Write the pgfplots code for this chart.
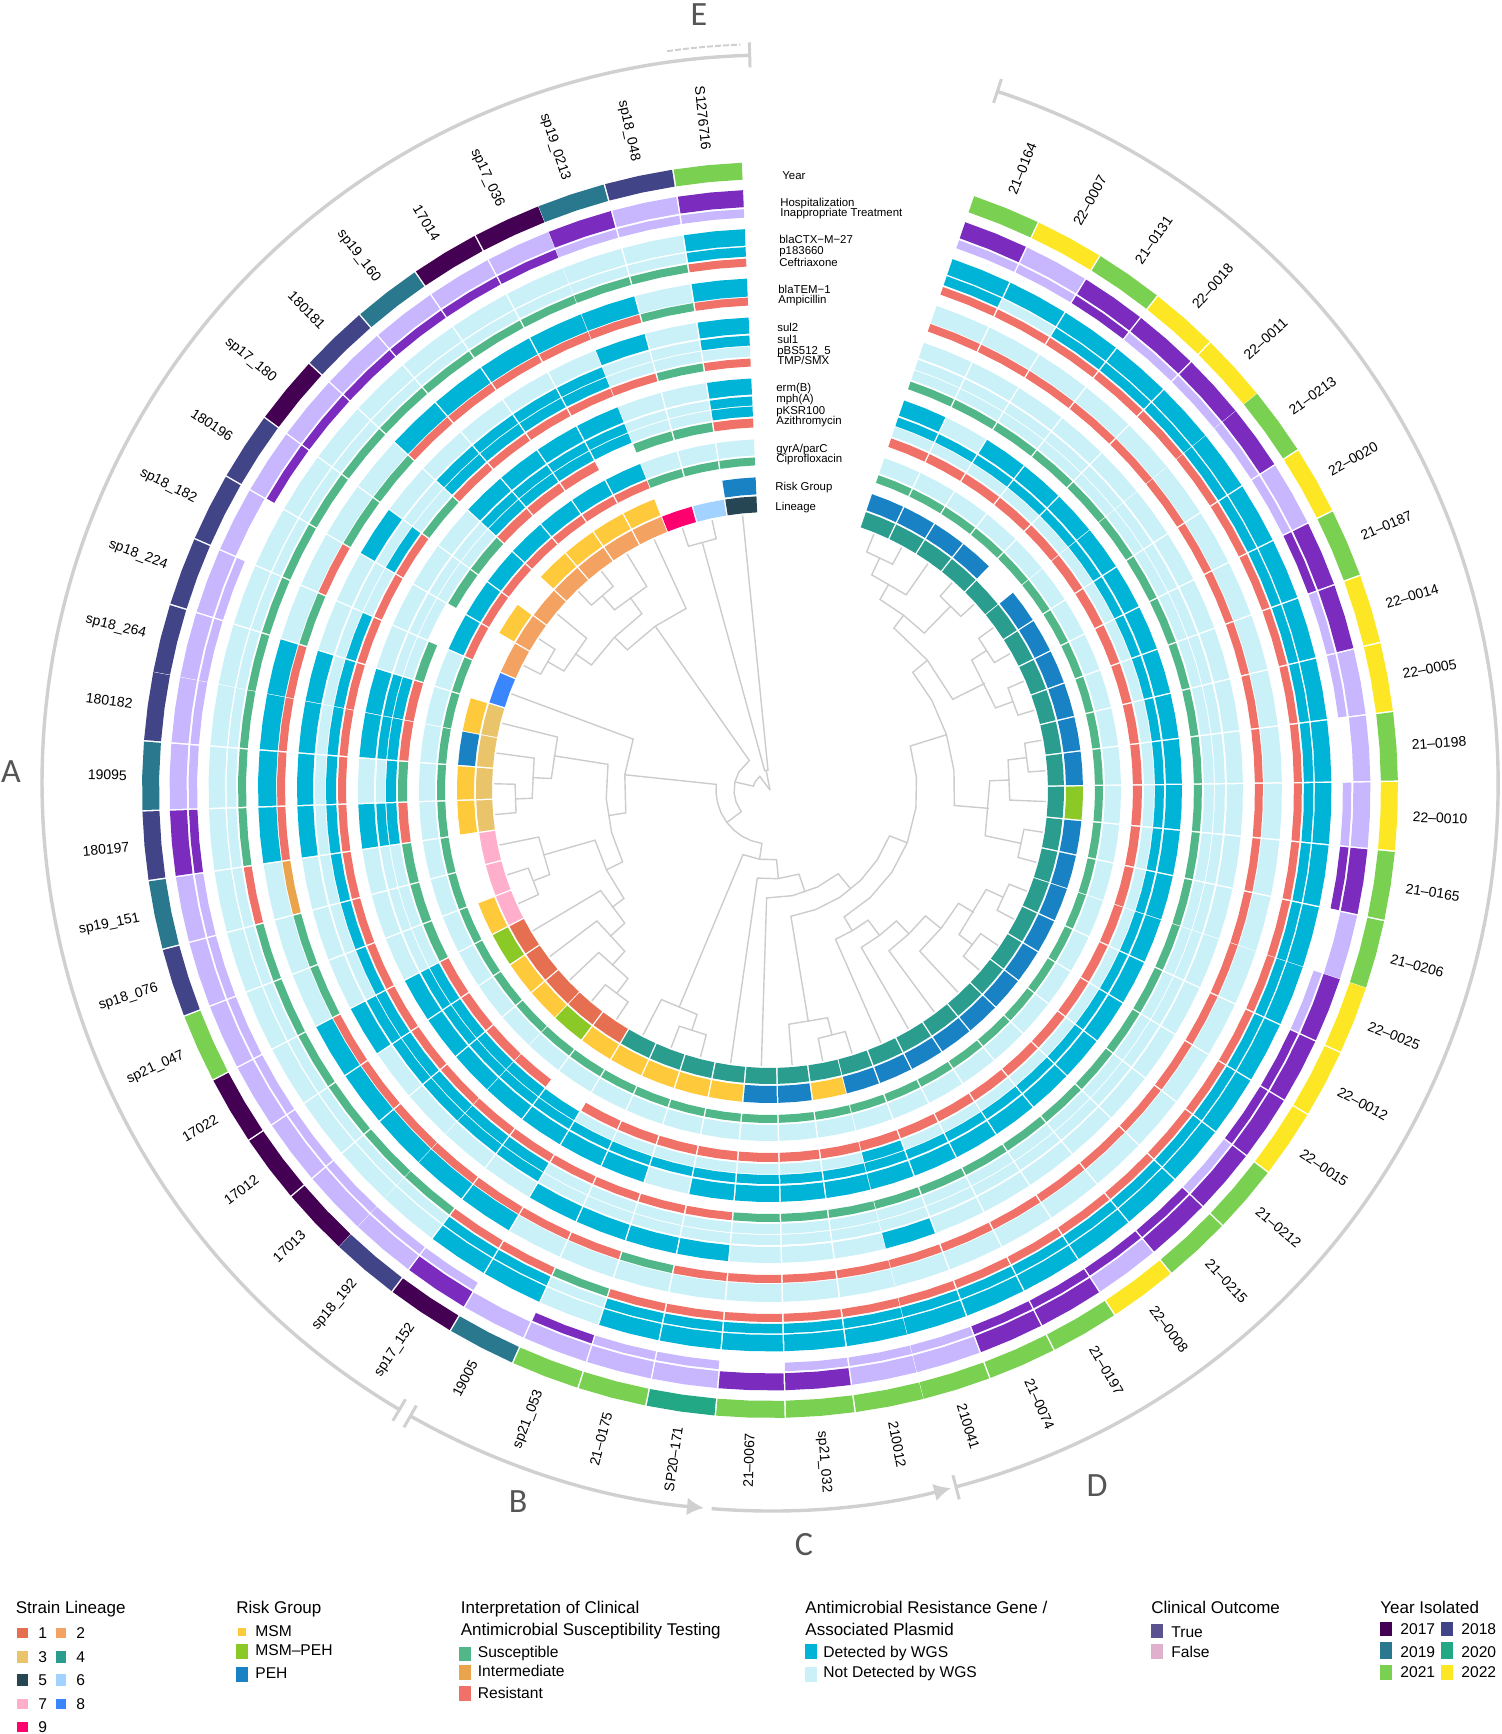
\documentclass[border=0pt]{standalone}
\usepackage{fontspec}
\setmainfont{Liberation Sans}
\newfontfamily\letterfont{Carlito}
\usepackage{pgfplots}
\usepackage{pgfplotstable}
\pgfplotsset{compat=1.18}
\usepgfplotslibrary{polar}
\usetikzlibrary{arrows.meta}

% AMR / AST / clinical
\definecolor{cat1}{HTML}{00B4D8}
\definecolor{cat2}{HTML}{CAF0F8}
\definecolor{cat3}{HTML}{52B788}
\definecolor{cat4}{HTML}{E9A44C}
\definecolor{cat5}{HTML}{F07167}
\definecolor{cat6}{HTML}{7B2CBF}
\definecolor{cat7}{HTML}{C8B6FF}
% risk group
\definecolor{cat8}{HTML}{FFC93C}
\definecolor{cat9}{HTML}{8AC926}
\definecolor{cat10}{HTML}{1982C4}
% lineage 1-9
\definecolor{cat11}{HTML}{E76F51}
\definecolor{cat12}{HTML}{F4A261}
\definecolor{cat13}{HTML}{E9C46A}
\definecolor{cat14}{HTML}{2A9D8F}
\definecolor{cat15}{HTML}{264653}
\definecolor{cat16}{HTML}{A2D2FF}
\definecolor{cat17}{HTML}{FFAFCC}
\definecolor{cat18}{HTML}{3A86FF}
\definecolor{cat19}{HTML}{FF006E}
% year
\definecolor{cat2017}{HTML}{440154}
\definecolor{cat2018}{HTML}{414487}
\definecolor{cat2019}{HTML}{2A788E}
\definecolor{cat2020}{HTML}{22A884}
\definecolor{cat2021}{HTML}{7AD151}
\definecolor{cat2022}{HTML}{FDE725}
\definecolor{treegrey}{HTML}{CCCCCC}
\definecolor{brgrey}{HTML}{D0D0D0}
\definecolor{lettergrey}{HTML}{555555}
\definecolor{trueswatch}{HTML}{5B5390}
\definecolor{falseswatch}{HTML}{E0B1CC}

% one row per strain, clockwise from the gap; 0 = no cell
\pgfplotstableread{
phi yr hs ip ctx p18 cef tem amp su2 su1 pb tmp erm mph ksr azi gyr cip rsk lin
22.1 2021 6 7 1 1 5 2 5 2 2 2 3 1 1 2 5 2 3 10 14
28.5 2022 7 7 1 2 5 2 5 2 2 2 3 2 1 2 5 2 3 10 14
34.9 2021 6 6 1 1 5 2 5 2 2 2 3 1 1 2 5 2 3 10 14
41.3 2022 6 7 1 1 5 2 5 2 2 2 3 1 1 2 5 2 3 10 14
47.7 2022 6 7 1 1 5 2 5 2 2 2 3 1 1 2 5 2 3 0 14
54.0 2021 6 7 1 1 5 2 5 2 2 2 3 1 1 2 5 2 3 10 14
60.4 2022 7 7 1 1 5 2 5 2 2 2 3 1 1 2 5 2 3 10 14
66.8 2021 6 6 1 1 5 2 5 2 2 2 3 1 1 2 5 2 3 10 14
73.2 2022 6 7 1 1 5 2 5 2 2 2 3 1 1 2 5 2 3 10 14
79.6 2022 7 7 1 1 5 2 5 2 2 2 3 1 1 2 5 2 3 10 14
86.0 2021 7 0 1 1 5 2 5 2 2 2 3 1 1 2 5 2 3 10 14
92.4 2022 7 7 1 1 5 2 5 2 2 2 3 1 1 2 5 2 3 9 14
98.8 2021 6 6 1 1 5 2 5 2 2 2 3 1 1 2 5 2 3 10 14
105.2 2021 7 0 1 1 5 2 5 2 2 2 3 1 1 2 5 2 3 10 14
111.5 2022 6 7 1 1 5 2 5 2 2 2 3 1 1 2 5 2 3 10 14
117.9 2022 6 6 1 1 5 2 5 2 2 2 3 1 1 2 5 2 3 10 14
124.3 2022 6 6 1 1 5 2 5 2 2 2 3 1 1 2 5 2 3 10 14
130.7 2021 6 7 1 1 5 2 5 2 2 2 3 1 1 2 5 2 3 10 14
137.1 2021 6 6 1 1 5 2 5 2 2 2 3 1 1 2 5 2 3 10 14
143.5 2022 7 6 1 1 5 2 5 2 2 2 3 1 1 2 5 2 3 10 14
149.9 2021 6 6 1 1 5 2 5 2 2 2 3 1 1 2 5 2 3 10 14
156.3 2021 6 6 1 1 5 2 5 2 2 2 3 1 1 2 5 2 3 10 14
162.7 2021 7 7 1 1 5 2 5 1 2 2 3 1 1 1 5 2 3 10 14
169.0 2021 7 7 1 1 5 2 5 2 2 2 3 1 1 2 5 2 3 8 14
175.4 2021 6 7 1 1 5 2 5 2 2 2 3 1 1 2 5 2 3 10 14
181.8 2021 6 0 1 1 5 2 5 2 2 2 3 1 1 2 5 2 3 10 14
188.2 2020 7 7 1 1 5 2 5 1 2 2 5 1 1 2 5 2 3 8 14
194.6 2021 7 7 1 1 5 2 3 1 2 2 5 2 1 2 5 2 3 8 14
201.0 2021 7 6 2 2 3 2 5 1 2 2 5 1 1 2 5 2 3 8 14
207.4 2019 7 0 1 1 5 2 5 1 2 2 5 1 1 2 5 2 3 8 14
213.8 2017 6 7 1 1 5 1 5 2 1 1 5 1 1 1 0 2 3 8 11
220.2 2018 7 7 2 2 3 1 5 2 1 1 5 1 1 1 5 2 3 9 11
226.5 2017 7 7 2 2 3 1 5 2 1 1 5 1 1 1 5 2 3 8 11
232.9 2017 7 7 2 2 3 1 5 2 1 1 5 1 1 1 5 2 3 8 11
239.3 2017 7 7 2 2 3 1 5 1 1 1 5 1 1 1 5 2 3 9 11
245.7 2021 7 7 2 2 3 2 3 2 2 1 5 2 2 2 3 2 3 8 17
252.1 2018 7 7 2 2 3 2 3 2 2 1 5 2 2 2 3 2 3 0 17
258.5 2019 7 7 2 2 5 2 4 2 2 1 5 2 2 2 3 2 3 0 17
264.9 2018 6 6 2 2 3 1 5 1 2 1 5 1 1 1 5 2 3 8 13
271.3 2019 7 7 2 2 3 1 5 1 2 1 5 2 2 1 3 2 3 8 13
277.7 2018 7 7 2 2 3 1 5 1 2 1 5 1 1 1 5 2 3 10 13
284.0 2018 7 7 2 2 3 1 5 1 2 1 5 1 1 1 5 2 3 8 13
290.4 2018 7 7 2 2 3 2 3 2 2 1 5 2 2 2 3 2 3 0 18
296.8 2018 7 0 2 2 3 2 5 2 2 2 5 2 2 2 0 1 5 0 12
303.2 2018 7 6 2 2 3 2 3 1 2 1 5 2 2 2 3 1 5 8 12
309.6 2017 7 6 2 2 3 2 3 2 2 2 3 2 2 2 3 1 5 0 12
316.0 2018 7 6 2 2 3 1 5 2 1 1 5 1 1 1 5 1 5 8 12
322.4 2019 7 6 2 2 3 1 5 2 1 1 5 1 1 1 5 1 5 8 12
328.8 2017 7 6 2 2 3 1 5 2 1 1 5 1 1 1 5 1 5 8 12
335.2 2017 7 6 2 2 3 1 5 2 1 1 5 1 1 1 0 1 5 8 12
341.5 2019 6 7 2 2 3 1 5 1 2 2 5 2 2 2 3 2 3 0 19
347.9 2018 7 7 2 2 3 2 3 2 2 2 3 2 2 2 3 2 3 0 16
354.3 2021 6 7 1 1 5 1 5 1 1 2 5 1 1 1 5 2 3 10 15
}\cells

\pgfdeclareplotmark{nomark}{}

% a cell: 1 px = 0.5pt, radial x axis after the rotation
\newcommand\drawcell[2]{%
  \pgfmathtruncatemacro\cc{\cellcat}%
  \ifnum\cc>0
    \pgfscope
    \pgftransformrotate{90-\cellphi}%
    \pgfsetfillcolor{cat\cc}%
    \pgfmathsetmacro\cmid{(#1+#2)/2}%
    \pgfmathsetmacro\chi{(#1*0.05567-0.7)*0.5}%
    \pgfmathsetmacro\cho{(#2*0.05567-0.7)*0.5}%
    \pgfmathsetmacro\cxic{(#1*0.99845-\cmid)*0.5}%
    \pgfmathsetmacro\cxoc{(#2*0.99845-\cmid)*0.5}%
    \pgfmathsetmacro\cxim{(#1-\cmid)*0.5}%
    \pgfmathsetmacro\cxom{(#2-\cmid)*0.5}%
    \pgfpathmoveto{\pgfpoint{\cxic pt}{-\chi pt}}%
    \pgfpathlineto{\pgfpoint{\cxim pt}{0pt}}%
    \pgfpathlineto{\pgfpoint{\cxic pt}{\chi pt}}%
    \pgfpathlineto{\pgfpoint{\cxoc pt}{\cho pt}}%
    \pgfpathlineto{\pgfpoint{\cxom pt}{0pt}}%
    \pgfpathlineto{\pgfpoint{\cxoc pt}{-\cho pt}}%
    \pgfpathclose
    \pgfusepath{fill}%
    \endpgfscope
  \fi}

\newcommand\ring[3]{%
  \addplot[scatter, only marks, mark=nomark,
    visualization depends on={\thisrow{#1} \as \cellcat},
    visualization depends on={\thisrow{phi} \as \cellphi},
    scatter/@pre marker code/.code={\drawcell{#2}{#3}},
    scatter/@post marker code/.code={}]
    table[x=phi, y expr={(#2+#3)/2}] {\cells};}

\newcommand\br[1]{\addplot[treegrey, line width=0.7pt, line join=miter, mark=none] coordinates {#1};}

% strain label, radial
\newcommand\slab[2]{%
  \ifdim#1pt<180pt
    \node[anchor=west, rotate=90-#1, inner sep=0pt, font=\fontsize{7}{8}\selectfont] at ({90-#1}:643) {#2};
  \else
    \node[anchor=east, rotate=270-#1, inner sep=0pt, font=\fontsize{7}{8}\selectfont] at ({90-#1}:643) {#2};
  \fi}
% y is the middle of the capitals, the nodes sit on their baseline
\newcommand\rlab[3]{\node[anchor=base west, inner sep=0pt, font=\fontsize{5.7}{7}\selectfont] at (#1,#2+4) {#3};}
\newcommand\ltx[3]{\node[anchor=base west, inner sep=0pt, font=\fontsize{7.8}{10}\selectfont] at (#1,#2+5.5) {#3};}
\newcommand\ttl[3]{\node[anchor=base west, inner sep=0pt, font=\fontsize{8.5}{10}\selectfont] at (#1,#2+6) {#3};}
\newcommand\swatch[5]{\fill[#5] (#1,#2) rectangle (#3,#4);}
\newcommand\brtick[1]{\draw[brgrey, line width=1.5pt] ({90-#1}:716) -- ({90-#1}:741);}

\begin{document}
\begin{tikzpicture}[x=0.5pt,y=-0.5pt]
\begin{polaraxis}[
  at={(385pt,-395pt)}, anchor=origin,
  scale only axis, width=730pt, height=730pt,
  ymin=0, ymax=730,
  x coord trafo/.code={\pgfmathparse{90-#1}},
  hide axis, clip=false, xtick=\empty, ytick=\empty,
]
% dendrogram
\br{(22.1,276)(22.1,257)(28.5,257)(28.5,276)}
\br{(25.3,257)(25.3,238)(34.9,238)(34.9,276)}
\br{(41.3,276)(41.3,258)(47.7,258)(47.7,276)}
\br{(30,238)(30,220)(37.4,220)(44.5,220)(44.5,258)}
\br{(54,276)(54,258)(60.4,258)(60.4,276)}
\br{(66.8,276)(66.8,259)(73.2,259)(73.2,276)}
\br{(57.2,258)(57.2,240)(70,240)(70,259)}
\br{(37.4,220)(37.4,204)(50.5,204)(63.6,204)(63.6,240)}
\br{(79.6,276)(79.6,259)(86,259)(86,276)}
\br{(82.8,259)(82.8,240)(92.4,240)(92.4,276)}
\br{(98.8,276)(98.8,257)(105.2,257)(105.2,276)}
\br{(87.6,240)(87.6,220)(102,220)(102,257)}
\br{(50.5,204)(50.5,185)(61,185)(72.6,185)(84,185)(94.8,185)(94.8,220)}
\br{(111.5,276)(111.5,257)(117.9,257)(117.9,276)}
\br{(124.3,276)(124.3,255)(130.7,255)(130.7,276)}
\br{(114.7,257)(114.7,238)(127.4,238)(127.4,255)}
\br{(121,238)(121,220)(129,220)(137.1,220)(137.1,276)}
\br{(129,220)(129,200)(136,200)(143.5,200)(143.5,276)}
\br{(136,200)(136,182)(143,182)(149.9,182)(149.9,276)}
\br{(143,182)(143,163)(149.7,163)(156.3,163)(156.3,276)}
\br{(72.6,185)(72.6,147)(85,147)(97,147)(111,147)(124,147)(137,147)(149.7,147)(149.7,163)}
\br{(162.7,276)(162.7,253)(169,253)(169,276)}
\br{(165.8,253)(165.8,235)(175.4,235)(175.4,276)}
\br{(111,147)(111,128)(123,128)(135,128)(147,128)(159,128)(170.6,128)(170.6,235)}
\br{(140.8,128)(140.8,108)(154,108)(168,108)(181.8,108)(181.8,276)}
\br{(161,108)(161,89)(175,89)(188.2,89)(188.2,276)}
\br{(194.6,276)(194.6,253)(201,253)(201,276)}
\br{(198,253)(198,236)(207.4,236)(207.4,276)}
\br{(174.6,89)(174.6,70)(188.6,70)(202.7,70)(202.7,236)}
\br{(213.8,276)(213.8,255)(220.2,255)(220.2,276)}
\br{(217,255)(217,236)(226.5,236)(226.5,276)}
\br{(222,236)(222,217)(232.9,217)(232.9,276)}
\br{(227.5,217)(227.5,197)(239.3,197)(239.3,276)}
\br{(245.7,276)(245.7,254)(252.1,254)(252.1,276)}
\br{(249,254)(249,236)(258.5,236)(258.5,276)}
\br{(233.4,197)(233.4,182)(244,182)(254,182)(254,236)}
\br{(264.9,276)(264.9,255)(271.3,255)(271.3,276)}
\br{(268,255)(268,238)(277.7,238)(277.7,276)}
\br{(273,238)(273,219)(284,219)(284,276)}
\br{(244,182)(244,164)(255,164)(267,164)(279,164)(279,219)}
\br{(261,164)(261,146)(276,146)(290.4,146)(290.4,276)}
\br{(188.6,70)(188.6,54)(200,54)(211,54)(222,54)(233,54)(245,54)(256,54)(267,54)(276,54)(276,146)}
\br{(296.8,276)(296.8,257)(303.2,257)(303.2,276)}
\br{(300,257)(300,238)(309.6,238)(309.6,276)}
\br{(316,276)(316,257)(322.4,257)(322.4,276)}
\br{(319.2,257)(319.2,238)(328.8,238)(328.8,276)}
\br{(305,238)(305,218)(314.5,218)(324,218)(324,238)}
\br{(314.5,218)(314.5,200)(325,200)(335.2,200)(335.2,276)}
\br{(233,54)(233,36)(250,36)(265,36)(283,36)(300,36)(325,36)(325,200)}
\br{(283,36)(283,17)(300,17)(323,17)(323,0)}
\br{(341.5,276)(341.5,257)(347.9,257)(347.9,276)}
\br{(344.7,257)(344.7,20)(354.3,20)(354.3,276)}
\br{(349,20)(349,0)}
% rings, outer to inner
\ring{yr}{611}{628}
\ring{hs}{583.5}{600.5}
\ring{ip}{573}{581.5}
\ring{ctx}{545}{561.5}
\ring{p18}{534}{543.5}
\ring{cef}{524}{532}
\ring{tem}{494}{512}
\ring{amp}{485}{493}
\ring{su2}{457}{473}
\ring{su1}{445}{455}
\ring{pb}{434}{444}
\ring{tmp}{424}{432}
\ring{erm}{396}{412}
\ring{mph}{385}{394}
\ring{ksr}{374}{384}
\ring{azi}{363}{372}
\ring{gyr}{335}{351}
\ring{cip}{325}{333}
\ring{rsk}{296}{313}
\ring{lin}{278}{294}
\end{polaraxis}

\begin{scope}[shift={(770,790)},x=0.5pt,y=0.5pt]
\slab{22.1}{21–0164}\slab{28.5}{22–0007}\slab{34.9}{21–0131}\slab{41.3}{22–0018}
\slab{47.7}{22–0011}\slab{54.0}{21–0213}\slab{60.4}{22–0020}\slab{66.8}{21–0187}
\slab{73.2}{22–0014}\slab{79.6}{22–0005}\slab{86.0}{21–0198}\slab{92.4}{22–0010}
\slab{98.8}{21–0165}\slab{105.2}{21–0206}\slab{111.5}{22–0025}\slab{117.9}{22–0012}
\slab{124.3}{22–0015}\slab{130.7}{21–0212}\slab{137.1}{21–0215}\slab{143.5}{22–0008}
\slab{149.9}{21–0197}\slab{156.3}{21–0074}\slab{162.7}{210041}\slab{169.0}{210012}
\slab{175.4}{sp21\_032}\slab{181.8}{21–0067}\slab{188.2}{SP20–171}\slab{194.6}{21–0175}
\slab{201.0}{sp21\_053}\slab{207.4}{19005}\slab{213.8}{sp17\_152}\slab{220.2}{sp18\_192}
\slab{226.5}{17013}\slab{232.9}{17012}\slab{239.3}{17022}\slab{245.7}{sp21\_047}
\slab{252.1}{sp18\_076}\slab{258.5}{sp19\_151}\slab{264.9}{180197}\slab{271.3}{19095}
\slab{277.7}{180182}\slab{284.0}{sp18\_264}\slab{290.4}{sp18\_224}\slab{296.8}{sp18\_182}
\slab{303.2}{180196}\slab{309.6}{sp17\_180}\slab{316.0}{180181}\slab{322.4}{sp19\_160}
\slab{328.8}{17014}\slab{335.2}{sp17\_036}\slab{341.5}{sp19\_0213}\slab{347.9}{sp18\_048}
\slab{354.3}{S1276716}
\end{scope}

% brackets, their circle sits a little above the rings
\begin{scope}[shift={(770,783)},x=0.5pt,y=0.5pt]
\draw[brgrey, line width=1.7pt] ({90-358.4}:728) arc[start angle={90-358.4}, end angle={90-210.6}, radius=728];
\brtick{358.4}\brtick{210.6}
\brtick{209.6}\brtick{165.2}\brtick{18.2}
\draw[brgrey, line width=1.7pt, -{Latex[length=8.5pt,width=9pt]}] ({90-209.6}:728) arc[start angle={90-209.6}, end angle={90-185.2}, radius=728];
\draw[brgrey, line width=1.7pt, -{Latex[length=8.5pt,width=9pt]}] ({90-184.6}:728) arc[start angle={90-184.6}, end angle={90-165.6}, radius=728];
\draw[brgrey, line width=1.7pt] ({90-165.2}:728) arc[start angle={90-165.2}, end angle={90-18.2}, radius=728];
\draw[brgrey, line width=1pt, dash pattern=on 3pt off 1pt] ({90-352}:739) arc[start angle={90-352}, end angle={90-357.7}, radius=739];
\end{scope}

% ring names
\rlab{782}{175}{Year}
\rlab{780}{202}{Hospitalization}
\rlab{780}{212}{Inappropriate Treatment}
\rlab{779}{239}{blaCTX−M−27}
\rlab{779}{250}{p183660}
\rlab{779}{262}{Ceftriaxone}
\rlab{778}{289}{blaTEM−1}
\rlab{778}{299}{Ampicillin}
\rlab{777}{327}{sul2}
\rlab{777}{339}{sul1}
\rlab{777}{350}{pBS512\_5}
\rlab{777}{360}{TMP/SMX}
\rlab{776}{387}{erm(B)}
\rlab{776}{398}{mph(A)}
\rlab{776}{410}{pKSR100}
\rlab{776}{420}{Azithromycin}
\rlab{776}{448}{gyrA/parC}
\rlab{776}{458}{Ciprofloxacin}
\rlab{775}{486}{Risk Group}
\rlab{775}{506}{Lineage}

% letters
\foreach \t/\a/\b in {A/11/772,E/699/15,B/518/1502,C/804/1545,D/1097/1486}
  \node[text=lettergrey, inner sep=0pt, font=\letterfont\fontsize{17}{20}\selectfont] at (\a,\b) {\t};

% legends
\ttl{15.5}{1607}{Strain Lineage}
\swatch{17}{1628}{27.5}{1638}{cat11}\ltx{38}{1633}{1}
\swatch{56}{1628}{65.5}{1638}{cat12}\ltx{76}{1633}{2}
\swatch{17}{1651}{27.5}{1663}{cat13}\ltx{38}{1657}{3}
\swatch{56}{1651}{65.5}{1663}{cat14}\ltx{76}{1657}{4}
\swatch{17}{1674}{27.5}{1686}{cat15}\ltx{38}{1680}{5}
\swatch{56}{1674}{65.5}{1686}{cat16}\ltx{76}{1680}{6}
\swatch{17}{1699}{27.5}{1709}{cat17}\ltx{38}{1704}{7}
\swatch{56}{1699}{65.5}{1709}{cat18}\ltx{76}{1704}{8}
\swatch{17}{1722}{27.5}{1732}{cat19}\ltx{38}{1727}{9}

\ttl{236}{1607}{Risk Group}
\swatch{237.5}{1628}{246}{1636}{cat8}\ltx{255}{1631}{MSM}
\swatch{236}{1644}{248}{1659}{cat9}\ltx{255}{1650}{MSM–PEH}
\swatch{236}{1667}{248}{1682}{cat10}\ltx{255}{1673}{PEH}

\ttl{460.5}{1607}{Interpretation of Clinical}
\ttl{460.5}{1629}{Antimicrobial Susceptibility Testing}
\swatch{459}{1647}{471}{1661}{cat3}\ltx{477.5}{1652}{Susceptible}
\swatch{459}{1665}{471}{1680}{cat4}\ltx{477.5}{1671}{Intermediate}
\swatch{459}{1686}{471}{1701}{cat5}\ltx{477.5}{1693}{Resistant}

\ttl{805}{1607}{Antimicrobial Resistance Gene /}
\ttl{805}{1629}{Associated Plasmid}
\swatch{805}{1644}{817}{1659}{cat1}\ltx{823}{1652}{Detected by WGS}
\swatch{805}{1667}{817}{1682}{cat2}\ltx{823}{1672}{Not Detected by WGS}

\ttl{1151}{1607}{Clinical Outcome}
\swatch{1151}{1624}{1163}{1638}{trueswatch}\ltx{1171}{1632}{True}
\swatch{1151}{1644}{1163}{1659}{falseswatch}\ltx{1171}{1652}{False}

\ttl{1380}{1607}{Year Isolated}
\swatch{1380}{1622}{1392}{1636}{cat2017}\ltx{1400}{1629}{2017}
\swatch{1441}{1622}{1453}{1636}{cat2018}\ltx{1461}{1629}{2018}
\swatch{1380}{1642}{1392}{1659}{cat2019}\ltx{1400}{1652}{2019}
\swatch{1441}{1642}{1453}{1659}{cat2020}\ltx{1461}{1652}{2020}
\swatch{1380}{1665}{1392}{1680}{cat2021}\ltx{1400}{1672}{2021}
\swatch{1441}{1665}{1453}{1680}{cat2022}\ltx{1461}{1672}{2022}

\pgfresetboundingbox
\path[use as bounding box] (0,0) rectangle (1501,1734);
\end{tikzpicture}
\end{document}
